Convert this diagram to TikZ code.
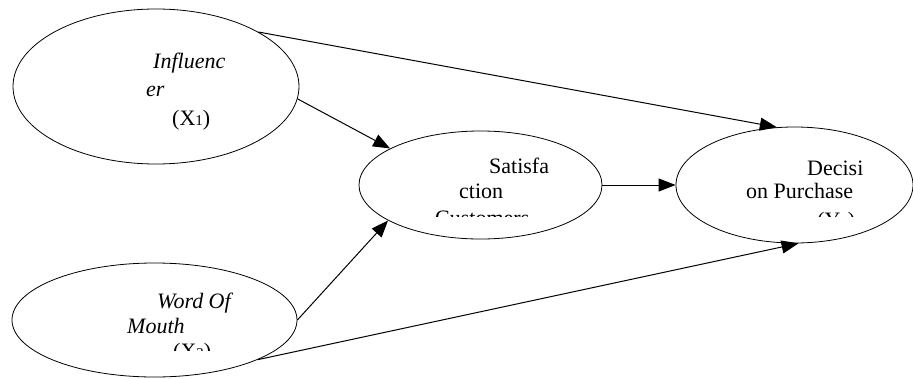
\documentclass[tikz,border=0pt]{standalone}
\usepackage{fontspec}
\setmainfont{Liberation Serif}
\usetikzlibrary{shapes.geometric,arrows.meta}
\begin{document}
\begin{tikzpicture}[x=1pt,y=-1pt,
  oval/.style={draw,ellipse,line width=0.8pt,inner sep=0pt},
  conn/.style={line width=1pt,-{Triangle[length=17pt,width=13pt]}},
  txt/.style={anchor=base west,inner sep=0pt,font=\fontsize{22}{26}\selectfont},
  itxt/.style={txt,font=\fontsize{22}{26}\selectfont\itshape}]
\useasboundingbox (0,0) rectangle (913,378);
\node[oval,minimum width=286pt,minimum height=155pt] (inf) at (156,86.5) {};
\node[oval,minimum width=285pt,minimum height=114pt] (wom) at (154.5,320) {};
\node[oval,minimum width=243pt,minimum height=108pt] (sat) at (480.5,185) {};
\node[oval,minimum width=237pt,minimum height=116pt] (dec) at (794.5,185) {};
% texts
\node[itxt] (inf1) at (153,68) {Influenc};
\node[itxt] (inf2) at (146,96) {er};
\node[txt] (inf3) at (172,125) {(X{\fontsize{15}{15}\selectfont 1})};
\begin{scope}
\clip (0,0) rectangle (913,350);
\node[itxt] (wom1) at (157,308) {Word Of};
\node[itxt] (wom2) at (127,333) {Mouth};
\node[txt] (wom3) at (173,358) {(X{\fontsize{15}{15}\selectfont 2})};
\end{scope}
\begin{scope}
\clip (0,0) rectangle (913,216);
\node[txt] (sat1) at (489,173) {Satisfa};
\node[txt] (sat2) at (459,198) {ction};
\node[txt] (sat3) at (435,225) {Customers};
\node[txt] (dec1) at (807,175) {Decisi};
\node[txt] (dec2) at (746,198) {on Purchase};
\node[txt] (dec3) at (817,227) {(Y{\fontsize{15}{15}\selectfont 1})};
\end{scope}
% connectors
\draw[conn] (inf.28.6) -- (dec.107.5);
\draw[conn] (inf.-5) -- (sat.158.3);
\draw[conn] (sat.east) -- (dec.west);
\draw[conn] (wom.-0.5) -- (sat.201.7);
\draw[conn] (wom.-21) -- (dec.-86.5);
\end{tikzpicture}
\end{document}
